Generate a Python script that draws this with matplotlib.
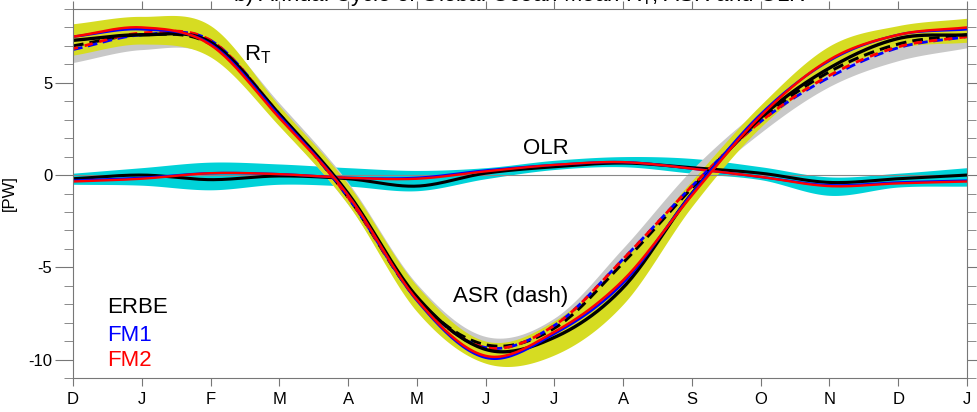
import numpy as np
import matplotlib
matplotlib.use("Agg")
import matplotlib.pyplot as plt
from matplotlib.ticker import MultipleLocator

plt.rcParams["font.family"] = ["Liberation Sans", "DejaVu Sans"]
plt.rcParams["axes.unicode_minus"] = False

months = ["D", "J", "F", "M", "A", "M", "J", "J", "A", "S", "O", "N", "D", "J"]

# net radiation R_T (solid)
rt_erbe = [7.3, 7.6, 7.2, 3.3, -1.0, -6.6, -9.45, -8.8, -6.1, -1.0, 3.1, 5.8, 7.4, 7.6]
rt_fm1 = [7.5, 7.9, 7.1, 3.2, -1.1, -6.8, -9.9, -8.6, -5.85, -1.0, 3.3, 6.2, 7.6, 7.9]
rt_fm2 = [7.5, 8.0, 7.05, 3.1, -1.1, -6.75, -9.8, -8.5, -5.7, -1.1, 3.2, 6.25, 7.6, 8.0]

# absorbed solar (dashed)
asr_erbe = [7.0, 7.6, 7.1, 3.3, -1.2, -6.7, -9.2, -8.3, -4.75, -0.7, 3.0, 5.6, 7.1, 7.6]
asr_fm1 = [6.8, 7.6, 7.3, 3.3, -1.2, -6.7, -9.35, -8.15, -4.55, -0.6, 2.9, 5.3, 6.9, 7.5]
asr_fm2 = [6.85, 7.7, 7.3, 3.3, -1.2, -6.7, -9.35, -8.15, -4.55, -0.6, 2.9, 5.4, 6.95, 7.5]

# outgoing longwave
olr_erbe = [-0.2, 0.0, -0.25, -0.05, -0.2, -0.6, 0.1, 0.45, 0.65, 0.4, 0.1, -0.4, -0.2, 0.0]
olr_fm1 = [-0.3, -0.15, 0.1, 0.05, -0.15, -0.15, 0.25, 0.55, 0.7, 0.35, -0.1, -0.55, -0.4, -0.3]
olr_fm2 = [-0.35, -0.2, 0.1, 0.05, -0.15, -0.2, 0.2, 0.55, 0.7, 0.35, -0.1, -0.6, -0.45, -0.35]

# spread bands
rt_hi = [8.2, 8.6, 8.1, 3.75, -0.5, -6.0, -9.0, -7.9, -4.6, -0.3, 3.8, 7.0, 8.1, 8.5]
rt_lo = [6.5, 7.1, 6.4, 2.65, -1.6, -7.4, -10.2, -9.75, -7.0, -1.7, 2.6, 5.5, 6.9, 7.2]
asr_hi = [7.8, 8.3, 7.9, 3.9, -0.4, -5.9, -8.75, -7.75, -3.95, 0.3, 3.6, 6.2, 7.6, 8.0]
asr_lo = [6.1, 6.8, 6.5, 2.7, -1.6, -7.2, -9.9, -9.0, -5.9, -1.0, 2.3, 4.8, 6.2, 6.9]
olr_hi = [0.1, 0.4, 0.7, 0.6, 0.4, 0.25, 0.4, 0.8, 1.0, 0.9, 0.45, -0.1, 0.1, 0.4]
olr_lo = [-0.5, -0.55, -0.8, -0.5, -0.6, -0.85, -0.2, 0.3, 0.45, 0.1, -0.25, -1.1, -0.65, -0.6]


def smooth(y, n=24):
    # cubic hermite through the monthly values, just for drawing
    y = np.asarray(y, float)
    m = np.gradient(y)
    xs, ys = [], []
    for i in range(len(y) - 1):
        t = np.linspace(0, 1, n, endpoint=False)
        h00 = 2 * t**3 - 3 * t**2 + 1
        h10 = t**3 - 2 * t**2 + t
        h01 = -2 * t**3 + 3 * t**2
        h11 = t**3 - t**2
        xs.append(i + t)
        ys.append(h00 * y[i] + h10 * m[i] + h01 * y[i + 1] + h11 * m[i + 1])
    xs.append([len(y) - 1])
    ys.append([y[-1]])
    return np.concatenate(xs), np.concatenate(ys)


fig = plt.figure(figsize=(9.77, 4.12), dpi=100)
ax = fig.add_axes([73 / 977, 1 - 378 / 412, (967 - 73) / 977, (378 - 9) / 412])

xs, lo = smooth(olr_lo)
_, hi = smooth(olr_hi)
ax.fill_between(xs, lo, hi, color="#00d2d8", lw=0)
xs, lo = smooth(asr_lo)
_, hi = smooth(asr_hi)
ax.fill_between(xs, lo, hi, color="#c8c8c8", lw=0)
xs, lo = smooth(rt_lo)
_, hi = smooth(rt_hi)
ax.fill_between(xs, lo, hi, color="#d6dc22", lw=0)

ax.axhline(0, color="#888888", lw=0.8)

for data, col, lw in [(olr_erbe, "black", 2.2), (olr_fm1, "blue", 1.7), (olr_fm2, "red", 1.7)]:
    ax.plot(*smooth(data), color=col, lw=lw)

ax.plot(*smooth(asr_erbe), color="black", lw=2.2, ls=(0, (3.5, 2)))
ax.plot(*smooth(asr_fm1), color="blue", lw=2.0, ls=(0, (3.5, 2)))
ax.plot(*smooth(asr_fm2), color="red", lw=2.0, ls=(1.2, (3.0, 2.5)))

for data, col, lw in [(rt_erbe, "black", 2.4), (rt_fm1, "blue", 1.8), (rt_fm2, "red", 1.8)]:
    ax.plot(*smooth(data), color=col, lw=lw)

ax.text(2.48, 6.5, "R$_\\mathregular{T}$", fontsize=16, va="center")
ax.text(6.87, 1.45, "OLR", fontsize=16, ha="center", va="center")
ax.text(6.36, -6.6, "ASR (dash)", fontsize=16, ha="center", va="center")
ax.text(0.5, -7.2, "ERBE", fontsize=16, color="black", va="center")
ax.text(0.5, -8.7, "FM1", fontsize=16, color="blue", va="center")
ax.text(0.5, -10.05, "FM2", fontsize=16, color="red", va="center")

ax.set_xlim(0, len(months) - 1)
ax.set_ylim(-11, 9)
ax.set_xticks(range(len(months)))
ax.set_xticklabels(months)
ax.yaxis.set_major_locator(MultipleLocator(5))
ax.yaxis.set_minor_locator(MultipleLocator(1))
ax.set_ylabel("[PW]", fontsize=12)
ax.yaxis.set_label_coords(-0.0626, 0.5)

for s in ax.spines.values():
    s.set_color("#777777")
ax.tick_params(axis="y", which="major", direction="out", length=13, color="#777777",
               labelsize=12, left=True, right=True, pad=2)
ax.tick_params(axis="y", which="minor", direction="out", length=6.5, color="#777777",
               left=True, right=True)
ax.tick_params(axis="x", which="major", direction="out", length=6, color="#777777",
               labelsize=12, top=True, bottom=True, pad=4)

fig.text(0.532, 1 - 0.5 / 412, "b) Annual Cycle of Global Ocean Mean R$_\\mathregular{T}$, ASR and OLR",
         fontsize=16, ha="center", va="baseline")

fig.savefig("out.png", dpi=100)
